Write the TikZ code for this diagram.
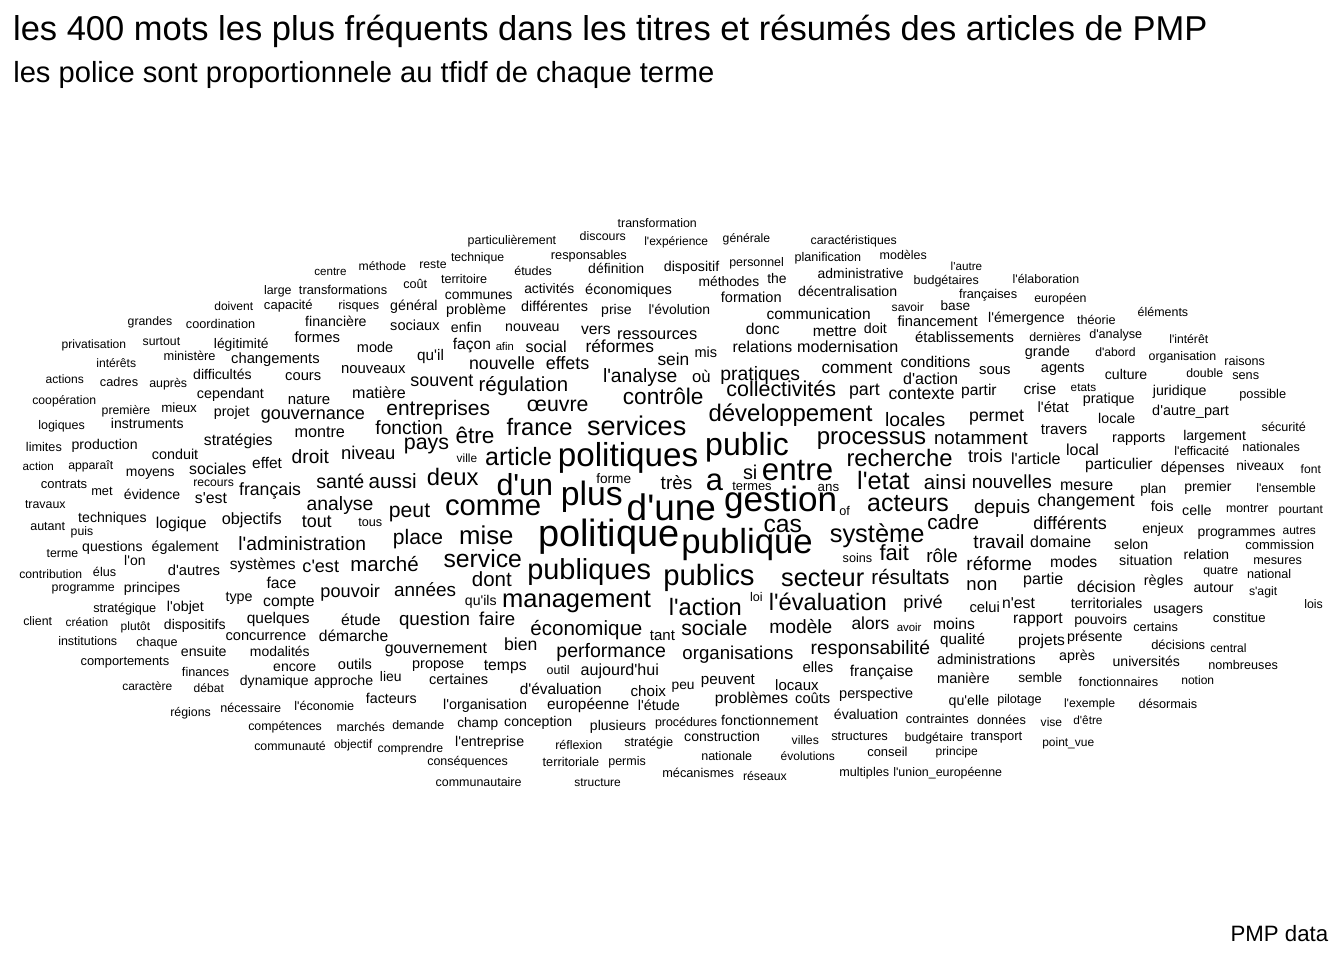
\documentclass[tikz,border=0pt]{standalone}
\usepackage{fontspec}
\newfontfamily\wordfont{Liberation Sans}
\newcounter{wrdc}
\tikzset{word/.style={anchor=base west, inner sep=0pt, outer sep=0pt, text=black}}
% \wrd{left ink x}{right ink x}{baseline y}{text}
\newcommand\allwords{%
\wrd{14}{1207}{40.7}{les 400 mots les plus fréquents dans les titres et résumés des articles de PMP}
\wrd{14}{714}{82.5}{les police sont proportionnele au tfidf de chaque terme}
\wrd{1231}{1328}{941}{PMP data}
\wrd{617.7}{697}{227.3}{transformation}
\wrd{467.7}{556.3}{244.7}{particulièrement}
\wrd{579.7}{626}{240.7}{discours}
\wrd{644.3}{708.3}{245.3}{l'expérience}
\wrd{722.7}{770.3}{242.7}{générale}
\wrd{810.7}{897}{244.3}{caractéristiques}
\wrd{451}{504.3}{261.3}{technique}
\wrd{551}{627}{259.3}{responsables}
\wrd{794.7}{861.3}{261.3}{planification}
\wrd{879.7}{927}{259}{modèles}
\wrd{314.3}{346.7}{275.7}{centre}
\wrd{358.7}{406.3}{270.3}{méthode}
\wrd{419.3}{446.7}{268.3}{reste}
\wrd{664}{719.3}{271.7}{dispositif}
\wrd{729.3}{784}{266.7}{personnel}
\wrd{950.7}{982.3}{270.7}{l'autre}
\wrd{514.3}{552}{275.7}{études}
\wrd{588.3}{644.3}{273.7}{définition}
\wrd{441}{487.3}{283.3}{territoire}
\wrd{403.3}{427.3}{288}{coût}
\wrd{698.7}{759.3}{286}{méthodes}
\wrd{767.3}{786.7}{283.7}{the}
\wrd{817.7}{903.7}{278.3}{administrative}
\wrd{913.7}{979}{284}{budgétaires}
\wrd{1012.7}{1079.3}{283.7}{l'élaboration}
\wrd{264}{291.7}{294}{large}
\wrd{299}{387.3}{294.5}{transformations}
\wrd{445}{512.7}{299}{communes}
\wrd{524.3}{574.3}{293.3}{activités}
\wrd{585.3}{672}{294.3}{économiques}
\wrd{721}{781.7}{302.3}{formation}
\wrd{798.3}{897.3}{296}{décentralisation}
\wrd{959}{1017.3}{298.3}{françaises}
\wrd{1034.3}{1086.7}{302}{européen}
\wrd{214.3}{253.3}{310.7}{doivent}
\wrd{264}{312.7}{309}{capacité}
\wrd{338.3}{379.3}{309}{risques}
\wrd{390.3}{437.7}{310.7}{général}
\wrd{446.3}{506.3}{314.7}{problème}
\wrd{521.3}{588}{311.7}{différentes}
\wrd{601.3}{631.7}{314}{prise}
\wrd{648.7}{710.3}{314.7}{l'évolution}
\wrd{891.7}{924}{311.3}{savoir}
\wrd{940.7}{970.3}{310.7}{base}
\wrd{1137.7}{1188.3}{316.7}{éléments}
\wrd{127.7}{172.3}{325.3}{grandes}
\wrd{186}{255.3}{328.7}{coordination}
\wrd{305.3}{366.7}{326.7}{financière}
\wrd{390.3}{439.7}{330.7}{sociaux}
\wrd{451}{481.7}{332.3}{enfin}
\wrd{505.3}{559.7}{331.7}{nouveau}
\wrd{766.7}{870.7}{319}{communication}
\wrd{897.7}{977.7}{326.3}{financement}
\wrd{988.3}{1064.7}{322.7}{l'émergence}
\wrd{1077}{1115.7}{324}{théorie}
\wrd{61.7}{126.3}{348.7}{privatisation}
\wrd{142.7}{180.3}{345.3}{surtout}
\wrd{214}{268.7}{348}{légitimité}
\wrd{294.7}{340}{342}{formes}
\wrd{581.3}{610.7}{334.7}{vers}
\wrd{617.3}{697.3}{339}{ressources}
\wrd{746}{779.7}{334.3}{donc}
\wrd{813}{856.7}{336.7}{mettre}
\wrd{864}{887}{333.3}{doit}
\wrd{915.3}{1014}{342.7}{établissements}
\wrd{1029.3}{1081}{341.7}{dernières}
\wrd{1089.3}{1142.3}{338.7}{d'analyse}
\wrd{1169.3}{1208.3}{343.3}{l'intérêt}
\wrd{357}{393.3}{352.3}{mode}
\wrd{453}{491}{349.7}{façon}
\wrd{495.7}{514}{350}{afin}
\wrd{525.7}{566.7}{352.7}{social}
\wrd{585.7}{654}{352}{réformes}
\wrd{732.7}{792.3}{352.7}{relations}
\wrd{797.3}{898.3}{352.7}{modernisation}
\wrd{1025}{1070}{356.7}{grande}
\wrd{1095.3}{1135.7}{356}{d'abord}
\wrd{694.7}{717.3}{357.3}{mis}
\wrd{96.3}{136.3}{367.7}{intérêts}
\wrd{163.7}{215.7}{360.3}{ministère}
\wrd{231.3}{319.7}{363.7}{changements}
\wrd{417.3}{444}{360.7}{qu'il}
\wrd{469.3}{535}{369.3}{nouvelle}
\wrd{546}{589.3}{369.3}{effets}
\wrd{657.7}{689.3}{365}{sein}
\wrd{1148.7}{1216.3}{360.7}{organisation}
\wrd{1224.3}{1265}{365}{raisons}
\wrd{341.3}{405.7}{373.3}{nouveaux}
\wrd{821.7}{892.3}{373.3}{comment}
\wrd{900.7}{970.3}{367.3}{conditions}
\wrd{979.3}{1010.7}{374.3}{sous}
\wrd{1041}{1084.7}{372.7}{agents}
\wrd{45.7}{84}{383.7}{actions}
\wrd{100}{138.3}{386.7}{cadres}
\wrd{149.3}{187.3}{387}{auprès}
\wrd{193.3}{251.7}{379.3}{difficultés}
\wrd{285.3}{321.3}{380.3}{cours}
\wrd{410.7}{473.3}{386.7}{souvent}
\wrd{479}{568}{391}{régulation}
\wrd{603.3}{677.3}{382.7}{l'analyse}
\wrd{692.3}{710.7}{382.7}{où}
\wrd{720.7}{800}{380}{pratiques}
\wrd{903.3}{958}{384}{d'action}
\wrd{1105}{1147.3}{379.3}{culture}
\wrd{1186.3}{1223.3}{377.7}{double}
\wrd{1232.3}{1259.3}{379.3}{sens}
\wrd{32.3}{96.3}{404.5}{coopération}
\wrd{197}{264}{398}{cependant}
\wrd{352.3}{405.7}{398.3}{matière}
\wrd{726.7}{836}{396.7}{collectivités}
\wrd{849.3}{879.7}{395}{part}
\wrd{888.7}{954.7}{399.3}{contexte}
\wrd{961.3}{996.7}{395}{partir}
\wrd{1023.7}{1056.3}{394.3}{crise}
\wrd{1070.7}{1096.3}{391}{etats}
\wrd{1153}{1206.7}{395.3}{juridique}
\wrd{1239.3}{1286.3}{398.3}{possible}
\wrd{101.7}{150.3}{414}{première}
\wrd{161.3}{197}{412}{mieux}
\wrd{214}{249.7}{416}{projet}
\wrd{288}{330.3}{404.3}{nature}
\wrd{261}{365}{419}{gouvernance}
\wrd{386.7}{490}{415.7}{entreprises}
\wrd{527.3}{588.3}{411.7}{œuvre}
\wrd{623.3}{703.3}{404.3}{contrôle}
\wrd{1083}{1134.7}{403.3}{pratique}
\wrd{1037.7}{1068.7}{412.7}{l'état}
\wrd{1152.3}{1229}{415.7}{d'autre\_part}
\wrd{709}{872.3}{421.7}{développement}
\wrd{885.3}{945.3}{426}{locales}
\wrd{969.3}{1024}{421.7}{permet}
\wrd{1098.3}{1135.3}{423.3}{locale}
\wrd{38.3}{85}{429.3}{logiques}
\wrd{111}{183.7}{428.3}{instruments}
\wrd{1041}{1087.3}{434.3}{travers}
\wrd{1261.7}{1306}{431}{sécurité}
\wrd{375.7}{442.7}{434.3}{fonction}
\wrd{507}{572.3}{435}{france}
\wrd{587.7}{686}{435}{services}
\wrd{294.7}{345}{437.7}{montre}
\wrd{817.3}{926}{444.3}{processus}
\wrd{934.3}{1027.7}{444.3}{notamment}
\wrd{1112.3}{1165.3}{442.3}{rapports}
\wrd{1183.3}{1246}{440}{largement}
\wrd{204}{272.7}{445}{stratégies}
\wrd{456}{494.3}{443.3}{être}
\wrd{404.3}{449}{449.3}{pays}
\wrd{706}{788.3}{455}{public}
\wrd{1174.3}{1229.3}{455}{l'efficacité}
\wrd{1242.3}{1300}{451.7}{nationales}
\wrd{26}{62}{451}{limites}
\wrd{71.7}{137.7}{449.3}{production}
\wrd{152}{198.3}{459.3}{conduit}
\wrd{292}{329}{463.3}{droit}
\wrd{341.3}{395.3}{459.3}{niveau}
\wrd{456.7}{477.3}{462.7}{ville}
\wrd{485.7}{551.7}{465}{article}
\wrd{558.7}{697.7}{466.7}{politiques}
\wrd{847}{952.3}{466}{recherche}
\wrd{968.3}{1002.3}{462.3}{trois}
\wrd{1011.3}{1060.7}{464.3}{l'article}
\wrd{1066.3}{1099}{455}{local}
\wrd{1085.3}{1152.7}{469.3}{particulier}
\wrd{1161}{1224.7}{472.3}{dépenses}
\wrd{1236.3}{1284}{470.3}{niveaux}
\wrd{1300.7}{1321}{473.3}{font}
\wrd{22.7}{54}{470.7}{action}
\wrd{68.3}{113.3}{469}{apparaît}
\wrd{126}{174.7}{476.7}{moyens}
\wrd{189.3}{246.3}{474}{sociales}
\wrd{252.3}{282}{468.3}{effet}
\wrd{193.3}{234}{486}{recours}
\wrd{316.7}{364.3}{488.3}{santé}
\wrd{369}{416.7}{488.3}{aussi}
\wrd{427.3}{478.3}{485.7}{deux}
\wrd{596.3}{631.3}{483.3}{forme}
\wrd{743.3}{757.3}{479}{si}
\wrd{762.7}{832.7}{480}{entre}
\wrd{857.7}{909.3}{489.3}{l'etat}
\wrd{924.3}{966}{489.3}{ainsi}
\wrd{972}{1051.7}{488.7}{nouvelles}
\wrd{1060.3}{1113.3}{490}{mesure}
\wrd{1140.3}{1166.3}{493.3}{plan}
\wrd{1184.3}{1231.7}{491.7}{premier}
\wrd{1256.3}{1316}{492.7}{l'ensemble}
\wrd{661}{692.3}{489.3}{très}
\wrd{706.7}{722.7}{490}{a}
\wrd{732.3}{771.7}{490.5}{termes}
\wrd{817.7}{839.3}{491.5}{ans}
\wrd{41}{87.3}{488.3}{contrats}
\wrd{91.3}{112.7}{495}{met}
\wrd{239.3}{301}{495}{français}
\wrd{497.3}{552.7}{495.7}{d'un}
\wrd{561.7}{622.3}{505.7}{plus}
\wrd{25}{65.7}{508.3}{travaux}
\wrd{124}{180.3}{499.3}{évidence}
\wrd{195}{227}{503.3}{s'est}
\wrd{307}{373.3}{510.7}{analyse}
\wrd{389.3}{430}{517.3}{peut}
\wrd{445.7}{540.7}{515.7}{comme}
\wrd{627.7}{715.3}{520}{d'une}
\wrd{725}{836.7}{511.7}{gestion}
\wrd{839.3}{850}{515}{of}
\wrd{867.7}{948.7}{511.7}{acteurs}
\wrd{974.3}{1030}{513.3}{depuis}
\wrd{1037.7}{1134.7}{506}{changement}
\wrd{1151}{1173.7}{511}{fois}
\wrd{1182.3}{1211.7}{515.7}{celle}
\wrd{1226}{1268.7}{512.3}{montrer}
\wrd{1278.7}{1323}{513.3}{pourtant}
\wrd{30.3}{65.3}{530.3}{autant}
\wrd{78.3}{146.7}{522}{techniques}
\wrd{156}{206.7}{528.3}{logique}
\wrd{222}{281.7}{524.3}{objectifs}
\wrd{302}{331.7}{527.7}{tout}
\wrd{358.3}{382.3}{526}{tous}
\wrd{764}{801.7}{532.5}{cas}
\wrd{927.7}{979}{529.3}{cadre}
\wrd{1033.7}{1106.7}{529}{différents}
\wrd{1142.3}{1183.7}{533.3}{enjeux}
\wrd{1197.7}{1275.7}{536}{programmes}
\wrd{1282.7}{1316}{534.3}{autres}
\wrd{70.7}{93.3}{535.7}{puis}
\wrd{82.3}{142.7}{551}{questions}
\wrd{151.7}{218.7}{551.7}{également}
\wrd{238.7}{366}{550.7}{l'administration}
\wrd{393.3}{443}{544}{place}
\wrd{459.7}{513.3}{544}{mise}
\wrd{539.3}{679}{546.7}{politique}
\wrd{682.3}{812.3}{553.3}{publique}
\wrd{830.3}{924.3}{542.3}{système}
\wrd{973.7}{1024.3}{548.3}{travail}
\wrd{1030.3}{1091.3}{547.3}{domaine}
\wrd{1114.3}{1148.3}{549.3}{selon}
\wrd{1245.3}{1314.3}{549.3}{commission}
\wrd{46.7}{78.3}{557.7}{terme}
\wrd{124.3}{145.7}{565.3}{l'on}
\wrd{230}{295.7}{569.3}{systèmes}
\wrd{302.7}{339}{572.7}{c'est}
\wrd{350.7}{418.7}{571.7}{marché}
\wrd{444}{521.7}{567.7}{service}
\wrd{842.7}{872.3}{562.3}{soins}
\wrd{880}{908.7}{560}{fait}
\wrd{926.7}{957.7}{562.7}{rôle}
\wrd{966.7}{1032}{570.7}{réforme}
\wrd{1050.3}{1097.3}{567.3}{modes}
\wrd{1119.3}{1172.7}{565.7}{situation}
\wrd{1183.7}{1229.3}{559.3}{relation}
\wrd{1253.3}{1302}{564.3}{mesures}
\wrd{19.3}{82.3}{578.3}{contribution}
\wrd{93}{116.3}{576}{élus}
\wrd{168}{220}{575.7}{d'autres}
\wrd{1203.3}{1238.3}{574.3}{quatre}
\wrd{1247}{1291.3}{578.3}{national}
\wrd{51.7}{115}{591.7}{programme}
\wrd{124}{180.3}{592.3}{principes}
\wrd{266.7}{296.3}{588.3}{face}
\wrd{320.7}{380}{597}{pouvoir}
\wrd{394.3}{456}{596}{années}
\wrd{472.3}{511.7}{586.7}{dont}
\wrd{528}{650.7}{579}{publiques}
\wrd{664}{754.3}{585}{publics}
\wrd{781.7}{864}{586.7}{secteur}
\wrd{871.7}{949.3}{584.3}{résultats}
\wrd{966.7}{997.3}{590}{non}
\wrd{1023.3}{1063.3}{584}{partie}
\wrd{1077.3}{1135.7}{592.7}{décision}
\wrd{1144}{1183.3}{585}{règles}
\wrd{1193.7}{1233.7}{592}{autour}
\wrd{1249}{1277.3}{595.7}{s'agit}
\wrd{225.7}{252.7}{601.3}{type}
\wrd{263.3}{314.7}{606}{compte}
\wrd{465}{496.7}{605}{qu'ils}
\wrd{502.7}{650.7}{607.3}{management}
\wrd{750}{762.7}{601}{loi}
\wrd{669.3}{741.7}{615}{l'action}
\wrd{769.3}{886.7}{610}{l'évaluation}
\wrd{903.7}{942.7}{608.3}{privé}
\wrd{969.7}{1000}{612.7}{celui}
\wrd{1002.3}{1035}{608.3}{n'est}
\wrd{1071}{1142.3}{608.3}{territoriales}
\wrd{1153.3}{1203.3}{613.3}{usagers}
\wrd{1304.3}{1323}{608.3}{lois}
\wrd{93.3}{156.3}{612.3}{stratégique}
\wrd{167}{204}{611.3}{l'objet}
\wrd{23.3}{52.3}{625.7}{client}
\wrd{65.7}{108.3}{626.7}{création}
\wrd{120.7}{150.3}{630}{plutôt}
\wrd{164}{225.7}{629.3}{dispositifs}
\wrd{247}{309.7}{623.3}{quelques}
\wrd{341.3}{380.7}{625}{étude}
\wrd{399.3}{470}{625}{question}
\wrd{479.3}{515.3}{625}{faire}
\wrd{1013.3}{1062.7}{623.3}{rapport}
\wrd{1074.3}{1127.3}{624.3}{pouvoirs}
\wrd{1213}{1265.7}{622.7}{constitue}
\wrd{530.7}{642.3}{635}{économique}
\wrd{650}{675}{640}{tant}
\wrd{681.7}{747.3}{635}{sociale}
\wrd{769.7}{832.3}{633.3}{modèle}
\wrd{851.7}{889.3}{629.3}{alors}
\wrd{896.7}{921.7}{631.7}{avoir}
\wrd{933.3}{975}{629}{moins}
\wrd{1133.3}{1178}{631.3}{certains}
\wrd{58.3}{117.3}{645}{institutions}
\wrd{136.3}{177.7}{646.7}{chaque}
\wrd{225.7}{306.3}{640.7}{concurrence}
\wrd{319}{388.3}{641}{démarche}
\wrd{940.3}{985}{644.3}{qualité}
\wrd{1018.3}{1065}{645}{projets}
\wrd{1067.3}{1122.7}{641}{présente}
\wrd{1151.3}{1205.3}{649.3}{décisions}
\wrd{1210.3}{1246.7}{652.7}{central}
\wrd{181}{226.7}{656}{ensuite}
\wrd{250}{309.7}{656}{modalités}
\wrd{385}{487}{653.3}{gouvernement}
\wrd{504.3}{537.3}{650}{bien}
\wrd{556.7}{666}{657.7}{performance}
\wrd{682.7}{793.3}{659}{organisations}
\wrd{811}{930}{654}{responsabilité}
\wrd{80.7}{169.3}{665.7}{comportements}
\wrd{937.3}{1035.7}{664}{administrations}
\wrd{1059.3}{1095}{660}{après}
\wrd{1112.7}{1180}{666.7}{universités}
\wrd{1208.3}{1278}{669.3}{nombreuses}
\wrd{273.3}{316.3}{671.7}{encore}
\wrd{338}{372}{669.3}{outils}
\wrd{412.3}{464.3}{668.3}{propose}
\wrd{484}{526.7}{670}{temps}
\wrd{546.7}{569.7}{674}{outil}
\wrd{580.7}{659}{675}{aujourd'hui}
\wrd{802.7}{833.3}{672.7}{elles}
\wrd{850}{913.3}{676}{française}
\wrd{182}{229.3}{676.7}{finances}
\wrd{380}{401.7}{681}{lieu}
\wrd{429.3}{488.3}{684.3}{certaines}
\wrd{122.3}{172.3}{690.7}{caractère}
\wrd{193.7}{224}{692.3}{débat}
\wrd{240}{308.7}{685}{dynamique}
\wrd{314.3}{373.3}{685}{approche}
\wrd{671.7}{694.7}{689.3}{peu}
\wrd{701}{755}{684.3}{peuvent}
\wrd{775.3}{818.7}{690}{locaux}
\wrd{937.3}{989.7}{683.3}{manière}
\wrd{1018.3}{1062.3}{682.3}{semble}
\wrd{1078.7}{1158.3}{686}{fonctionnaires}
\wrd{1181.3}{1214.3}{684.3}{notion}
\wrd{520}{601.7}{694}{d'évaluation}
\wrd{630.7}{666}{696.7}{choix}
\wrd{366}{416.7}{703.3}{facteurs}
\wrd{294.3}{354.3}{710.7}{l'économie}
\wrd{443.3}{527.3}{709.3}{l'organisation}
\wrd{547.3}{629.3}{709.3}{européenne}
\wrd{638}{680}{710}{l'étude}
\wrd{715}{788.3}{703.3}{problèmes}
\wrd{795.3}{830.3}{703.3}{coûts}
\wrd{839.3}{913.3}{698.3}{perspective}
\wrd{948.7}{989.3}{705.3}{qu'elle}
\wrd{997.3}{1041.7}{703.3}{pilotage}
\wrd{1064}{1115.3}{707.7}{l'exemple}
\wrd{1138.7}{1197.3}{708.3}{désormais}
\wrd{170.3}{211}{716.7}{régions}
\wrd{220.3}{281.3}{712.3}{nécessaire}
\wrd{248.3}{322}{730.7}{compétences}
\wrd{336.7}{385}{731}{marchés}
\wrd{392.3}{444.3}{729.3}{demande}
\wrd{457.3}{498.3}{727.3}{champ}
\wrd{504.3}{572.3}{726.7}{conception}
\wrd{590}{646.3}{730.7}{plusieurs}
\wrd{655}{717.3}{726.7}{procédures}
\wrd{721.3}{818.3}{725}{fonctionnement}
\wrd{834}{898.3}{719.3}{évaluation}
\wrd{906}{969}{723.3}{contraintes}
\wrd{977}{1026}{724}{données}
\wrd{1040.7}{1062.3}{726.7}{vise}
\wrd{1073.3}{1102.7}{724}{d'être}
\wrd{254.3}{326}{750}{communauté}
\wrd{334}{372.3}{748.3}{objectif}
\wrd{377.7}{443.3}{752.3}{comprendre}
\wrd{455.3}{524.3}{746.7}{l'entreprise}
\wrd{555.3}{602.3}{749.3}{réflexion}
\wrd{624.3}{673.3}{746.7}{stratégie}
\wrd{684.3}{760}{741.7}{construction}
\wrd{791.7}{819}{744}{villes}
\wrd{831.3}{888}{740.7}{structures}
\wrd{904.7}{963.3}{741.7}{budgétaire}
\wrd{971}{1022.3}{740}{transport}
\wrd{1042.3}{1094.3}{746.7}{point\_vue}
\wrd{427.3}{508}{765.7}{conséquences}
\wrd{542.7}{599.3}{766.7}{territoriale}
\wrd{608.3}{646}{765.7}{permis}
\wrd{701.3}{752.3}{760}{nationale}
\wrd{780.7}{835}{760}{évolutions}
\wrd{867.3}{907.7}{756.7}{conseil}
\wrd{935.7}{978}{755.3}{principe}
\wrd{662.3}{734}{777.7}{mécanismes}
\wrd{743}{787}{780}{réseaux}
\wrd{839.3}{889.3}{776}{multiples}
\wrd{893.3}{1002.3}{776}{l'union\_européenne}
\wrd{435.7}{521.7}{786}{communautaire}
\wrd{574.3}{621}{786}{structure}
}
\begin{document}
% measuring pass (outside the picture, normal font context)
\def\wrd#1#2#3#4{\stepcounter{wrdc}%
  \setbox0=\hbox{\wordfont\fontsize{10pt}{12pt}\selectfont #4}%
  \ifdim\wd0<1pt
    \expandafter\xdef\csname wfs\arabic{wrdc}\endcsname{12}%
  \else
    \pgfmathsetmacro\wrdtmp{10*(#2-#1-1)/(\the\wd0-0.7pt)}%
    \expandafter\xdef\csname wfs\arabic{wrdc}\endcsname{\wrdtmp}%
  \fi}%
\allwords
\setcounter{wrdc}{0}%
\begin{tikzpicture}[x=1pt,y=-1pt]
\def\wrd#1#2#3#4{\stepcounter{wrdc}%
  \edef\wrdfs{\csname wfs\arabic{wrdc}\endcsname}%
  \node[word,font=\wordfont\fontsize{\wrdfs pt}{\wrdfs pt}\selectfont] (w\arabic{wrdc}) at (#1+0.5-0.04*\wrdfs,#3) {#4};}
\fill[white] (0,0) rectangle (1344,960);
\useasboundingbox (0,0) rectangle (1344,960);
\allwords
\end{tikzpicture}
\end{document}
